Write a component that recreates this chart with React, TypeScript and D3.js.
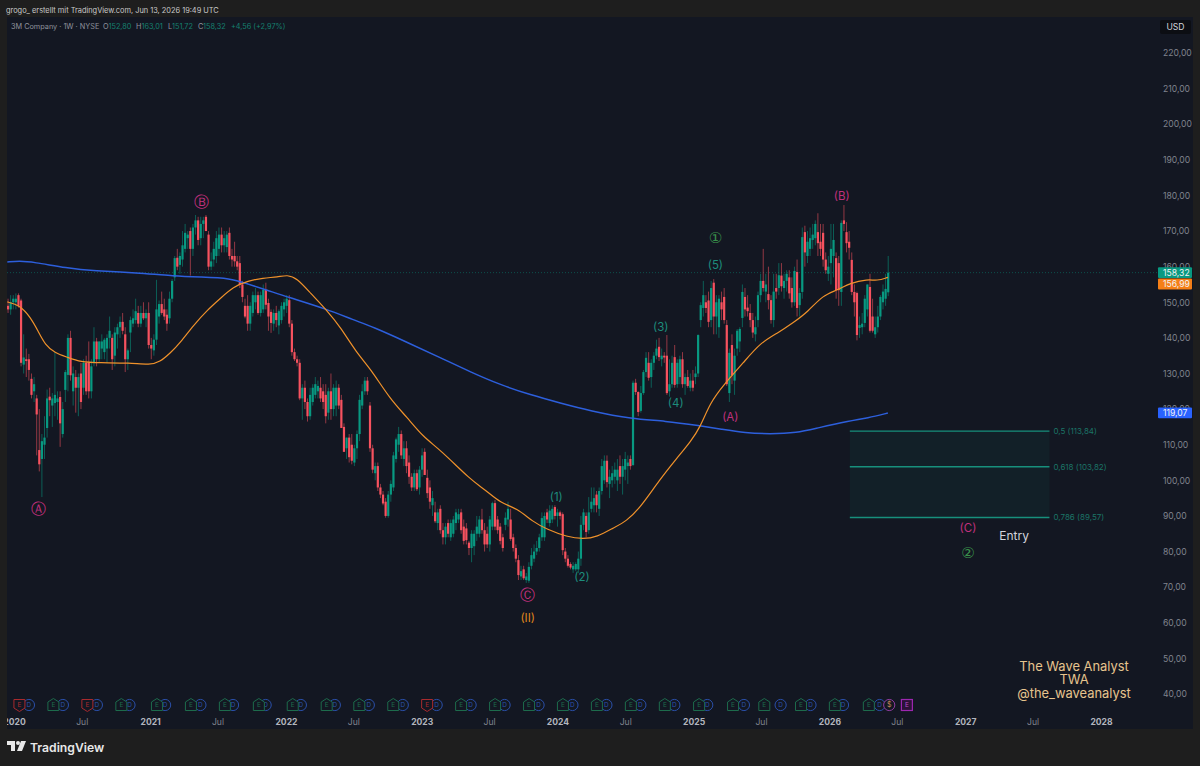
import * as d3 from "d3";
import React, { useEffect, useRef } from "react";

// weekly candles: [open, high, low, close]
const candles2020 = [
  [149,151,147,148],[148,152,146.5,150],[150,152,148,151],
  [150,152.5,148,151],[152,152.5,148.5,149],[150.5,151,132,133],[132.5,141,130,134.5],[134,137,129,133.5],
  [134,135.5,128,131],[128.5,130,123,124],[125,129,122,127],[123,124,107,118.5],[108.5,120,102.5,104.5],
  [106,113,95.3,111],[110,118,106,112],[114.7,125.5,112,123],[123.5,126,118,122.5],[121,124.5,115,123],
  [121.7,136,118,124],[122,125,117,123],[123.4,125,109.4,116],[113,122,112,120],[125.4,131,122,130.4],
  [129.6,141,125,140],[140,142,128,129.5],[125,132,121,130],[129,131,119,126],[126,130,118,129],
  [130,133,120,122],[126,134,124,133],[133,135,124,125],[133,139,123,125],[125,134,123,132],
  [133,143,132,139],[139,140,132,134],[134,139,133,139],[137,141,134,139],[136,140,134,139.5],[137,141,133,140],
  [140,146,137,142],[140,141,131,134],[135,143,132,141.5],[141,144,137,143],[143,146,140,144.5],
  [144.5,147,141,142],[141,143,130.4,134],[134,137,131,136.5],[141.5,146,136,145],[144,148,143,145.5],
  [145,151,144,147.5],[147,149,143,144],[144,149,143,147],[147,150,145,145.5],[145.5,148,143,147],
  [147,150,137,138],
];
const candles2021 = [
  [138,140,134,137],[136.5,141,135,139.5],[139.5,156.3,138,148],[146,150.5,144,149.5],[149.5,153,146.5,147],
  [148,151,145,146],[146.5,148,142,144],[145.5,153,144,151],[151,156.5,150,156],[157,163,156,162.4],
  [162.5,165,159,160],[160.5,164,158,163],[162,170,160,166],[165,172,164,169.5],[168,170,165,169],
  [170,171,157.5,165],[165,172,163,171],[171,174.5,169,173],[173,174,166,167.5],[168,174,166,172],
  [172,174,168,173],[174,174.5,170,170],[169,170,159,160],[160,164,159,161.5],[162,167,160,165],
  [163,170,161,168],[165,171,163,169],[169,171,164,166],[166,170,164,168],[165.5,170,164,169],
  [169.5,171,162,163],[163,165,160,162],[163,167,160,161.5],[161.5,163,159,160],[161,163,154,155],
  [155,156,150,151.5],[149,151,145.5,146],[149,152,142,144],[144,150,142,149],[147,153,146,152],
  [150,154,148,152],[152,153,146.5,147],[147,153,146,152],[148,155,147,153.5],[153.5,155.5,148,149.3],
  [149.8,151,142,146],[147.3,148,141.4,144.2],[144,148,142,147],[147,149,143,145],[143.5,148,141,147.5],
  [145,150,144,149],
];
const candles2022 = [
  [148,151,146,150],[149,152,147,151],[150.6,152,143,144],[144,145,135,136],[136,137,133.5,134],
  [134,135,132,133],[133,134,122.5,123],[123,127,117,126],[126,128,120,122],[122,123,116.5,118],
  [118,126,117,124],[122,127,121,126],[124,129,123,127],[125,128,123,126.5],[126,129,122,123],
  [125,127,120,122],[124,127,116,118],[119,126,117,125],[125,130,117,120],[120,127,118,126],
  [121,128,118,126],[126,127,120,121],[122.6,124,115,114.7],[115,116,108,108],[109,112,106,112],
  [112,113,105,106.5],[110,113,104.5,105.5],[105,110,104,109],[109,114,106,113],[113,124,111,122.6],
  [121,127,120,125],[125,129,124,128],[128,129,124,125],[121,122,108,109],[109,110,102,103],
  [102,105,100,104],[104,105,97,98],[98,99,95,96],[96,97,93,93.5],[94,95,89.5,90],
  [90,97,89.5,96],[96,100,94,99],[98,108,97,107],[106,112,105,111.5],[110,115,108,113],
  [113,114,106,107],[106,111,104,109],[109,111,102,104],[105,107,99,101],[101,102,97,98],
  [98,103,97,102],
];
const candles2023 = [
  [102,103,97,97.5],[98,104,96,103],[103,109,101,107],[108,109,102,101.5],[100.7,103,95,96.4],
  [98,100,92,94],[93,97,90,95],[91,94,88,88.5],[88,92,86,91],[92,93,85,86],
  [86,88,82,84],[84,88,82,87],[88,89,84,85],[84,89,83,88],[85,90,84,89],
  [88,92,86,91],[89,92,88,90.5],[91,92,85,86],[87,89,82,83],[86.5,88,82,83.2],
  [82.5,83,79,81],[81,86,77,85],[81.5,86,79,85],[85,90,83,87],[85,90,84,89],
  [89,92,85,86],[86,88,80,82],[85,87,81,82],[82,90,80,89],[87,94,86,93.6],
  [93.6,94.5,86,87],[89,90,85,86],[87,88,82,83],[84,85,80,81],[87.5,91,86,89.5],
  [89,94,87,92],[89,92,83,83.5],[84,85,80,81],[81,82,77,78],[77.6,79,72,73.4],
  [73,76,72,74.5],[75,76,72,72.5],[72,74,71.2,73],[71.8,77,71.2,75.7],[76,81,75,79],
  [78,82,77,80],[80,83,79,81],[81,85,80,84],[84,91,83,89.4],[84,91,83,90],
];
const candles2024 = [
  [91,92,88,89],[88,93,87,91.5],[89,93,88,92],[92.5,93,89,90],[90,92,87,91],
  [91,91.5,89,90],[90.5,91,79,80.4],[80,81,77,78],[78,79,75.5,76],[76.5,77,75,75.5],
  [75,77,74,76],[75,77,74.5,76.5],[75,80,74,78],[78,90,76,87.5],[87.5,92,86,91],
  [90,91,84,85.5],[86,95.3,85,91],[92,98,91,94],[93,98,91,95],[96,97,91,93],
  [92,98,90,97],[97,106,96,104],[100,107,99,105.5],[105.5,107,98,99.5],[99,103,95,101],
  [100,104,98,102],[101,105,99,103],[100,106,97,103],[104,107,99,101],[101,106,96,104],
  [103,108,100,106],[104,107,99,105],[106,107,103,104],[104.3,128,104,127.4],
  [127.4,128.5,124,124.8],[124.8,125,118,119.2],[119.5,126.5,119,124.5],[124.5,131,124,130.4],[130.4,136,129,134.4],
  [133,136,128,128.8],[129,134,126,133],[133,136,131,135],[135,139.5,134,137],[137.5,140,133.5,134.6],
  [134,137,132,135],[135,136,133,134.5],[135,140.8,124,124.5],[125,134,123.5,127],[127,135,126,133],
  [134.6,138,126,126.8],[127,134,126,133],[129,135,127,134],[134,136,126,127],[127,130,124,129],
  [129,131,126,126.5],[126,130,125,128],[128,131,125,126],
];
const candles2025 = [
  [129,132,127,130],[130,141,129,140.8],[145,150,143,149.2],[148.4,156,146,152],[150,152,147,148.4],
  [150.5,153,143,144.5],[145,156,143,154],[155.5,156.5,141,146],[146,152,141,150],[143,152,140,151],
  [150,153,145,148],[151.5,154,144,145],[143.6,145,126.5,127],[124.5,137,122,135.8],[138,141,127,129.5],
  [128,137,124,135],[137,142.5,135,142],[139,143,136,142.5],[145.6,155,143,152.9],[151.5,154,146,148],
  [148.5,152,146,147.5],[147,149.5,143,145],[145,147,140,141.5],[141,146,139,143],[145,153,143,152],
  [152,158,150,156],[156,165,153,154],[153,158,150,155],[152.3,160,148,150.6],[150.6,152,144,145],
  [145,158,143,153],[154,158,151,153],[154,161,152,157.6],[157.5,161,153,154.5],[154,158,151,156],
  [156,159,153,158],[157,159,151,152.5],[154,157,148.5,150],[150,160,149,158.8],[158.5,162,146,148.4],
  [149.2,154,146,152.6],[152.9,171,151,168.3],[169.7,171.5,160,164],[163,170,161,167],[165,171,163,168],
  [167.5,172,165,169],[168,173,166,172],[169.7,175,163,166.6],[167,172,163,165],[169.5,172,160,162],
  [162,164,158,159],[158,163,156,160],
];
const candles2026 = [
  [161,172,155,165],[163,172,157,167.5],[162.4,164,151,153.4],[161,163,149,153.4],[152.9,173,149,172.3],
  [173,177.3,170,172],[169.7,172.5,164,166.6],[167,170,162,165.3],[161.9,164,152,152.9],[152.9,155,146,150],
  [152.6,153,139.3,140.8],[142.8,146,140,143.6],[143,147,141,144],[144.2,152,143,151],[148,155,146,155],
  [154.3,158,141.5,142],[146,151,141.5,142],[141,146,140,143],[143,149,141.5,146],[146,152,145,151.5],
  [150,155,148,153],[151,158,149,153.76],[152.8,163.01,151.72,158.32],
];
const candles = [...candles2020, ...candles2021, ...candles2022, ...candles2023, ...candles2024, ...candles2025, ...candles2026];
const lastWeek = new Date(Date.UTC(2026, 5, 8));

// moving averages, [decimal year, price]
const ma50 = [
  [2019.95,150.1],[2020.04,149.2],[2020.12,145.9],[2020.18,141.7],[2020.23,138],[2020.30,135.8],[2020.39,134.6],[2020.49,133.2],
  [2020.63,133],[2020.85,133],[2021.00,132.4],[2021.07,133.2],[2021.15,135.8],[2021.22,138.6],[2021.32,143.6],[2021.42,147.8],
  [2021.52,151.2],[2021.61,154.3],[2021.72,156],[2021.83,156.8],[2021.94,157.1],[2022.01,157.7],[2022.08,156.8],[2022.18,152.6],
  [2022.30,147.8],[2022.40,143.1],[2022.52,135.8],[2022.62,131.5],[2022.77,122.6],[2022.89,117.8],[2023.01,112.2],[2023.14,108.5],
  [2023.36,100.1],[2023.47,97.3],[2023.58,93.6],[2023.70,92.2],[2023.82,88.3],[2023.92,86.3],[2024.07,84.1],[2024.19,83.5],
  [2024.29,84.1],[2024.41,86.6],[2024.51,88.6],[2024.61,92.4],[2024.75,100.1],[2024.88,106.3],[2024.98,110.9],[2025.05,115],
  [2025.12,121.7],[2025.22,126.8],[2025.37,133.2],[2025.49,138.6],[2025.62,141.4],[2025.73,144.2],[2025.84,147.3],[2025.95,152],
  [2026.06,153.4],[2026.15,155.4],[2026.28,156.5],[2026.35,156],[2026.43,157],
];
const ma200 = [
  [2019.95,161.3],[2020.04,161.6],[2020.14,161.3],[2020.39,159.6],[2020.58,158.8],[2020.95,158.2],[2021.17,157.4],[2021.37,157.1],
  [2021.59,156.8],[2021.72,155.1],[2021.86,153.4],[2022.01,151.5],[2022.30,148.1],[2022.50,145],[2022.64,143.1],[2022.89,138.8],
  [2023.14,134.4],[2023.36,130.4],[2023.58,126.8],[2023.80,124],[2024.02,121.7],[2024.24,119.5],[2024.55,117.2],[2024.79,116.7],
  [2025.05,115.3],[2025.20,114.4],[2025.38,113.3],[2025.56,113],[2025.76,113.3],[2025.91,114.7],[2026.15,116.7],[2026.28,117.5],[2026.43,118.9],
];

const priceTicks = [40, 50, 60, 70, 80, 90, 100, 110, 120, 130, 140, 150, 160, 170, 180, 190, 200, 210, 220];
const yearTicks = [2020, 2021, 2022, 2023, 2024, 2025, 2026, 2027, 2028];

const fibNames = ["0,5", "0,618", "0,786"];
const fibPrices = [113.84, 103.82, 89.57];
const fibStart = 2026.15;
const fibEnd = 2027.62;

const lastClose = 158.32;
const lastMa50 = 156.99;
const lastMa200 = 119.07;

const waveTexts = ["Ⓐ", "Ⓑ", "Ⓒ", "(II)", "(1)", "(2)", "(3)", "(4)", "(5)", "①", "(A)", "(B)", "(C)", "②"];
const waveYears = [2020.18, 2021.38, 2023.78, 2023.78, 2023.99, 2024.18, 2024.76, 2024.87, 2025.16, 2025.16, 2025.27, 2026.09, 2027.02, 2027.02];
const wavePrices = [92.2, 178.2, 67.8, 61.3, 95.3, 72.9, 143, 121.7, 160.5, 168.3, 117.8, 179.9, 86.6, 79.6];

const earningsYears = [2020.04,2020.29,2020.54,2020.79,2021.05,2021.30,2021.55,2021.80,2022.05,2022.30,2022.54,2022.79,2023.04,2023.29,2023.54,2023.79,2024.04,2024.29,2024.54,2024.79,2025.04,2025.29,2025.52,2025.79,2026.04,2026.29];
const earningsMissed = [2020.04, 2020.54, 2023.04];
const dividendYears = [2020.11,2020.36,2020.61,2020.85,2021.11,2021.37,2021.61,2021.85,2022.11,2022.36,2022.61,2022.86,2023.11,2023.36,2023.61,2023.86,2024.11,2024.36,2024.61,2024.86,2025.10,2025.37,2025.64,2025.86,2026.10,2026.37];
const splitYear = 2026.44;
const nextEarningsYear = 2026.57;

const FONT = "Inter, 'Noto Sans', sans-serif";
const UP = "#089981";
const DOWN = "#f7525f";

const yearToDate = (y: number) => {
  const whole = Math.floor(y);
  return new Date(Date.UTC(whole, 0, 1) + (y - whole) * 365.25 * 864e5);
};
const comma = (v: number) => v.toFixed(2).replace(".", ",");

export default function App() {
  const svgRef = useRef<SVGSVGElement>(null);

  useEffect(() => {
    const svg = d3.select(svgRef.current);
    svg.selectAll("*").remove();
    svg.attr("font-family", FONT);

    const x = d3.scaleUtc().domain([new Date(Date.UTC(2020, 0, 1)), new Date(Date.UTC(2028, 0, 1))]).range([14, 1101]);
    const y = d3.scaleLinear().domain([40, 220]).range([694, 53]);
    const xy = (yr: number) => x(yearToDate(yr));

    svg.append("rect").attr("width", 1200).attr("height", 766).attr("fill", "#1e1e1e");
    svg.append("rect").attr("x", 7).attr("y", 17).attr("width", 1186).attr("height", 712).attr("fill", "#131722");
    svg.append("defs").append("clipPath").attr("id", "pane").append("rect").attr("x", 7).attr("y", 17).attr("width", 1186).attr("height", 712);

    const pane = svg.append("g").attr("clip-path", "url(#pane)");

    // price axis
    const priceAxis = svg.append("g").attr("transform", "translate(1158,0)")
      .call(d3.axisRight(y).tickValues(priceTicks).tickSize(0).tickPadding(5).tickFormat((d) => comma(+d)));
    priceAxis.select(".domain").remove();
    priceAxis.selectAll("text").attr("fill", "#80848e").attr("font-size", 8.6).attr("font-family", FONT);

    // time axis
    const timeValues = yearTicks.flatMap((yr) => (yr === 2028 ? [new Date(Date.UTC(yr, 0, 1))] : [new Date(Date.UTC(yr, 0, 1)), new Date(Date.UTC(yr, 6, 1))]));
    const timeAxis = pane.append("g").attr("transform", "translate(0,714)")
      .call(d3.axisBottom(x).tickValues(timeValues).tickSize(0).tickPadding(5).tickFormat((d: any) => (d.getUTCMonth() === 0 ? String(d.getUTCFullYear()) : "Jul")));
    timeAxis.select(".domain").remove();
    timeAxis.selectAll("text")
      .attr("font-family", FONT)
      .attr("font-size", 8.6)
      .attr("fill", (d: any) => (d.getUTCMonth() === 0 ? "#b2b5be" : "#80848e"))
      .attr("font-weight", (d: any) => (d.getUTCMonth() === 0 ? 700 : 400));

    // last price line
    const lastY = y(lastClose);
    pane.append("line").attr("x1", 7).attr("x2", 1158).attr("y1", lastY).attr("y2", lastY)
      .attr("stroke", UP).attr("stroke-opacity", 0.55).attr("stroke-width", 0.8).attr("stroke-dasharray", "1 2");

    // candles, anchored on the last week
    const weekDate = (i: number) => d3.utcDay.offset(lastWeek, -7 * (candles.length - 1 - i));
    const bars = pane.append("g").selectAll("g").data(candles).enter().append("g");
    const color = (d: number[]) => (d[3] >= d[0] ? UP : DOWN);
    bars.append("line")
      .attr("x1", (_, i) => x(weekDate(i))).attr("x2", (_, i) => x(weekDate(i)))
      .attr("y1", (d) => y(d[1])).attr("y2", (d) => y(d[2]))
      .attr("stroke", color).attr("stroke-width", 0.8).attr("stroke-opacity", 0.7);
    bars.append("rect")
      .attr("x", (_, i) => x(weekDate(i)) - 1.1)
      .attr("width", 2.2)
      .attr("y", (d) => y(Math.max(d[0], d[3])))
      .attr("height", (d) => Math.max(1, Math.abs(y(d[0]) - y(d[3]))))
      .attr("fill", color);

    // moving averages
    const line = d3.line<number[]>().x((d) => xy(d[0])).y((d) => y(d[1])).curve(d3.curveBasis);
    pane.append("path").attr("d", line(ma200)).attr("fill", "none").attr("stroke", "#2d5fdc").attr("stroke-width", 1.5);
    pane.append("path").attr("d", line(ma50)).attr("fill", "none").attr("stroke", "#f0922b").attr("stroke-width", 1.2);

    // fib zone
    const fx0 = xy(fibStart);
    const fx1 = xy(fibEnd);
    pane.append("rect").attr("x", fx0).attr("width", fx1 - fx0)
      .attr("y", y(fibPrices[0])).attr("height", y(fibPrices[2]) - y(fibPrices[0]))
      .attr("fill", UP).attr("fill-opacity", 0.07);
    fibPrices.forEach((p, i) => {
      pane.append("line").attr("x1", fx0).attr("x2", fx1).attr("y1", y(p)).attr("y2", y(p)).attr("stroke", "#17907c").attr("stroke-width", 1.3);
      pane.append("text").attr("x", fx1 + 4).attr("y", y(p)).attr("dy", "0.35em")
        .attr("font-size", 8).attr("fill", "#1b7466").text(`${fibNames[i]} (${comma(p)})`);
    });

    // wave labels
    const waveColor = (t: string) => {
      if (t === "(II)") return "#e0861c";
      if (t === "①" || t === "②") return "#39904a";
      if (["Ⓐ", "Ⓑ", "Ⓒ", "(A)", "(B)", "(C)"].includes(t)) return "#c0307c";
      return "#1d8c7c";
    };
    waveTexts.forEach((t, i) => {
      const circled = "ⒶⒷⒸ①②".includes(t);
      pane.append("text")
        .attr("x", xy(waveYears[i])).attr("y", y(wavePrices[i])).attr("dy", "0.36em")
        .attr("text-anchor", "middle")
        .attr("font-family", circled ? "'DejaVu Sans', sans-serif" : FONT)
        .attr("font-size", circled ? 15 : 11.5)
        .attr("fill", waveColor(t))
        .text(t);
    });

    pane.append("text").attr("x", xy(2027.36)).attr("y", y(84.4)).attr("dy", "0.36em").attr("text-anchor", "middle")
      .attr("font-size", 12).attr("fill", "#d1d4dc").text("Entry");

    const credit = pane.append("text").attr("text-anchor", "middle").attr("font-size", 12.9).attr("fill", "#e6c48e");
    ["The Wave Analyst", "TWA", "@the_waveanalyst"].forEach((t, i) => {
      credit.append("tspan").attr("x", 1074).attr("y", 670.5 + i * 13.5).text(t);
    });

    // earnings and dividend markers
    const markY = 705;
    const events = pane.append("g");
    dividendYears.forEach((yr) => {
      const g = events.append("g").attr("transform", `translate(${xy(yr)},${markY})`);
      g.append("circle").attr("r", 5.6).attr("fill", "#131722").attr("stroke", "#2a4fa8").attr("stroke-width", 1);
      g.append("text").attr("text-anchor", "middle").attr("dy", "0.35em").attr("font-size", 6.5).attr("fill", "#2a4fa8").text("D");
    });
    earningsYears.forEach((yr) => {
      const missed = earningsMissed.includes(yr);
      const stroke = missed ? "#a82a2e" : "#1d6b4c";
      const g = events.append("g").attr("transform", `translate(${xy(yr)},${markY})`);
      g.append("path")
        .attr("d", missed ? "M-5.5,-5.5H5.5V3L0,6.5L-5.5,3Z" : "M-5.5,5.5H5.5V-3L0,-6.5L-5.5,-3Z")
        .attr("fill", "#131722").attr("stroke", stroke).attr("stroke-width", 1);
      g.append("text").attr("text-anchor", "middle").attr("dy", "0.35em").attr("font-size", 6.5).attr("fill", stroke).text("E");
    });
    const split = events.append("g").attr("transform", `translate(${xy(splitYear)},${markY})`);
    split.append("circle").attr("r", 5.6).attr("fill", "#131722").attr("stroke", "#8e3d9e").attr("stroke-width", 1);
    split.append("text").attr("text-anchor", "middle").attr("dy", "0.35em").attr("font-size", 7).attr("fill", "#c48a5a").text("$");
    const next = events.append("g").attr("transform", `translate(${xy(nextEarningsYear)},${markY})`);
    next.append("rect").attr("x", -5.5).attr("y", -5.5).attr("width", 11).attr("height", 11).attr("fill", "#2c1238").attr("stroke", "#9c27b0").attr("stroke-width", 1.2);
    next.append("text").attr("text-anchor", "middle").attr("dy", "0.35em").attr("font-size", 6.5).attr("fill", "#b84cc9").text("E");

    // price tags, stacked the way the price scale pushes them apart
    const tag = (value: number, fill: string, shift: number) => {
      const cy = y(value) + shift;
      svg.append("rect").attr("x", 1158).attr("y", cy - 5.4).attr("width", 34).attr("height", 10.8).attr("rx", 1).attr("fill", fill);
      svg.append("text").attr("x", 1163).attr("y", cy).attr("dy", "0.35em").attr("font-size", 8.6).attr("fill", "#f2f3f5").text(comma(value));
    };
    tag(lastMa50, "#f57f17", 6.6);
    tag(lastClose, UP, 0);
    tag(lastMa200, "#2962ff", 0.5);

    // USD box
    svg.append("rect").attr("x", 1160).attr("y", 20).attr("width", 31).attr("height", 14).attr("rx", 2).attr("fill", "#0c0e13");
    svg.append("text").attr("x", 1175.5).attr("y", 27).attr("dy", "0.35em").attr("text-anchor", "middle").attr("font-size", 8.6).attr("fill", "#d1d4dc").text("USD");

    // header
    svg.append("text").attr("x", 6).attr("y", 12.5).attr("font-size", 7.4).attr("fill", "#c9c9c9")
      .text("grogo_ erstellt mit TradingView.com, Jun 13, 2026 19:49 UTC");

    const legendItems: [string, number, string][] = [
      ["3M Company · 1W · NYSE", 11, "#8f939d"],
      ["O", 103, "#8f939d"], ["152,80", 108.5, "#15806f"],
      ["H", 136, "#8f939d"], ["163,01", 141.5, "#15806f"],
      ["L", 168, "#8f939d"], ["151,72", 172, "#15806f"],
      ["C", 198, "#8f939d"], ["158,32", 203, "#15806f"],
      ["+4,56 (+2,97%)", 231, "#15806f"],
    ];
    const legend = svg.append("g").attr("font-size", 7.3);
    legendItems.forEach(([t, px, fill]) => {
      legend.append("text").attr("x", px).attr("y", 28.5).attr("fill", fill).text(t);
    });

    // footer logo
    const logo = svg.append("g").attr("transform", "translate(7,741)").attr("fill", "#e8e8e8");
    logo.append("path").attr("d", "M0,0H8V10H4V4H0Z");
    logo.append("circle").attr("cx", 11).attr("cy", 2).attr("r", 2);
    logo.append("path").attr("d", "M14,0H19L15,10H10Z");
    svg.append("text").attr("x", 30).attr("y", 752).attr("font-size", 12.2).attr("font-weight", 600).attr("fill", "#e8e8e8").text("TradingView");
  }, []);

  return <svg ref={svgRef} width={1200} height={766} style={{ position: "absolute", left: 0, top: 0, display: "block" }} />;
}
